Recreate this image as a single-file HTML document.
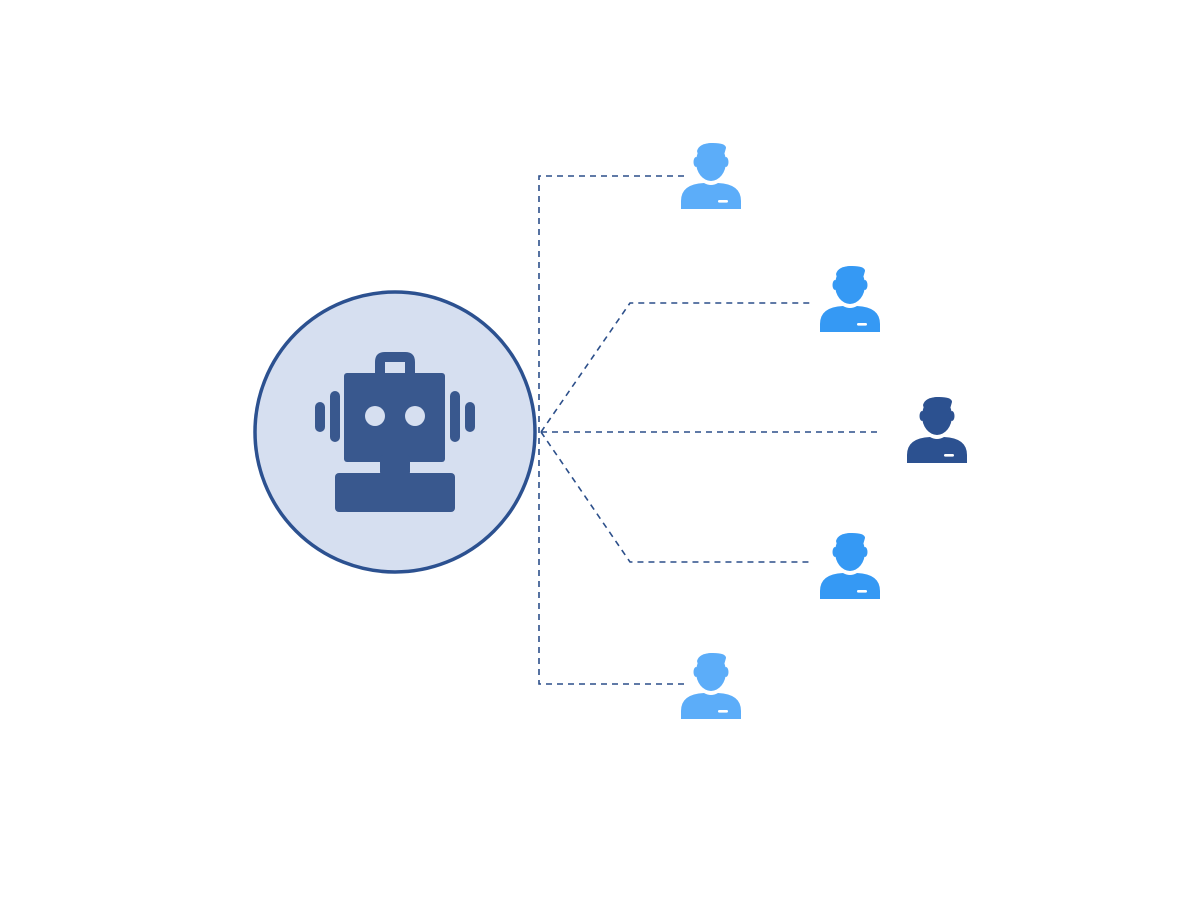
<!DOCTYPE html>
<html><head><meta charset="utf-8"><style>html,body{margin:0;padding:0;background:#fff}</style></head>
<body>
<svg width="1200" height="900" viewBox="0 0 1200 900" xmlns="http://www.w3.org/2000/svg">
<defs>
<g id="p">
<ellipse cx="0" cy="19" rx="15" ry="19"/>
<ellipse cx="-15" cy="19" rx="2.5" ry="5"/>
<ellipse cx="15" cy="19" rx="2.5" ry="5"/>
<path d="M-14 8 Q-12 0 2 0 Q15 0 15 5 L13 12 L-13 12 Z"/>
<path d="M-30 66 L-30 58 Q-30 41 -7 40 Q0 44 7 40 Q30 41 30 58 L30 66 Z"/>
<rect x="7" y="57" width="10" height="2.6" rx="1.3" fill="#fff"/>
</g>
</defs>
<g stroke="#2c4f8a" stroke-width="1.6" stroke-dasharray="6,5" fill="none">
<path d="M684 176 H539 V684 H684"/>
<path d="M541 432 L630 303 H812"/>
<path d="M541 432 H880"/>
<path d="M541 432 L630 562 H812"/>
</g>
<circle cx="395" cy="432" r="140" fill="#d6dff0" stroke="#2c5190" stroke-width="3.5"/>
<g fill="#39588e">
<path d="M375 373 V362 Q375 352 385 352 H405 Q415 352 415 362 V373 H405 V362 H385 V373 Z"/>
<rect x="344" y="373" width="101" height="89" rx="3"/>
<rect x="380" y="455" width="30" height="20" rx="3"/>
<rect x="335" y="473" width="120" height="39" rx="4"/>
<rect x="330" y="391" width="10" height="51" rx="5"/>
<rect x="450" y="391" width="10" height="51" rx="5"/>
<rect x="315" y="402" width="10" height="30" rx="5"/>
<rect x="465" y="402" width="10" height="30" rx="5"/>
</g>
<circle cx="375" cy="416" r="10" fill="#d6dff0"/>
<circle cx="415" cy="416" r="10" fill="#d6dff0"/>
<use href="#p" x="711" y="143" fill="#5cadf9"/>
<use href="#p" x="850" y="266" fill="#3599f4"/>
<use href="#p" x="937" y="397" fill="#2c5190"/>
<use href="#p" x="850" y="533" fill="#3599f4"/>
<use href="#p" x="711" y="653" fill="#5cadf9"/>
</svg>
</body></html>
